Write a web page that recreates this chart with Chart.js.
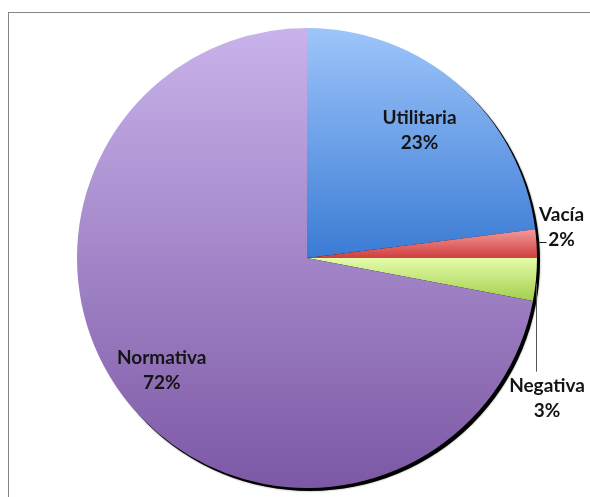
<!DOCTYPE html>
<html>
<head>
<meta charset="utf-8">
<script src="https://cdn.jsdelivr.net/npm/chart.js@4/dist/chart.umd.min.js"></script>
<style>
  html, body { margin: 0; padding: 0; background: #fff; }
  canvas { display: block; }
</style>
</head>
<body>
<canvas id="pie" width="590" height="497"></canvas>
<script>
const categories = ['Utilitaria', 'Vacía', 'Negativa', 'Normativa']
const shares = [23, 2, 3, 72]
const percentLabels = ['23%', '2%', '3%', '72%']

// light (top) -> dark (bottom) for each slice
const sliceColors = [
  ['#9ec5fb', '#3a7bd4'],
  ['#f49c9c', '#d03e3e'],
  ['#e4fbaa', '#a4ce4c'],
  ['#c9b3eb', '#7c58a5'],
]

const FONT = 'bold 19px Lato, "Open Sans", sans-serif'

function pieGeometry(chart) {
  const a = chart.chartArea
  const cx = (a.left + a.right) / 2
  const cy = (a.top + a.bottom) / 2
  const r = Math.min(a.right - a.left, a.bottom - a.top) / 2
  return { cx, cy, r }
}

// vertical gradient spanning each slice's own height
function sliceFill(context) {
  const chart = context.chart
  const i = context.dataIndex
  if (!chart.chartArea) return sliceColors[i][0]
  const { cy, r } = pieGeometry(chart)
  const total = shares.reduce((s, v) => s + v, 0)
  let before = 0
  for (let k = 0; k < i; k++) before += shares[k]
  const a0 = -Math.PI / 2 + (before / total) * 2 * Math.PI
  const a1 = a0 + (shares[i] / total) * 2 * Math.PI
  const ys = [0, Math.sin(a0), Math.sin(a1)]
  for (const t of [-Math.PI / 2, Math.PI / 2, 1.5 * Math.PI]) {
    if (t > a0 && t < a1) ys.push(Math.sin(t))
  }
  const top = cy + r * Math.min(...ys)
  const bottom = cy + r * Math.max(...ys)
  const g = chart.ctx.createLinearGradient(0, top, 0, bottom)
  g.addColorStop(0, sliceColors[i][0])
  g.addColorStop(1, sliceColors[i][1])
  return g
}

const framePlugin = {
  id: 'frame',
  beforeDraw(chart) {
    const ctx = chart.ctx
    ctx.save()
    ctx.fillStyle = '#fff'
    ctx.fillRect(0, 0, chart.width, chart.height)
    ctx.strokeStyle = '#868686'
    ctx.lineWidth = 1
    ctx.strokeRect(8.5, 12.5, chart.width + 10, chart.height + 10)
    ctx.restore()
  },
  beforeDatasetsDraw(chart) {
    const { cx, cy, r } = pieGeometry(chart)
    const ctx = chart.ctx
    ctx.save()
    ctx.beginPath()
    ctx.arc(cx + 3, cy + 3, r, 0, Math.PI * 2)
    ctx.shadowColor = 'rgba(0,0,0,0.5)'
    ctx.shadowBlur = 2
    ctx.fillStyle = '#000'
    ctx.fill()
    ctx.restore()
  }
}

const labelPlugin = {
  id: 'sliceLabels',
  afterDatasetsDraw(chart) {
    const ctx = chart.ctx
    const meta = chart.getDatasetMeta(0)
    ctx.save()
    ctx.font = FONT
    ctx.fillStyle = '#141414'
    ctx.textAlign = 'center'
    ctx.textBaseline = 'middle'
    meta.data.forEach((arc, i) => {
      const p = arc.getProps(['x', 'y', 'startAngle', 'endAngle', 'outerRadius'], true)
      const mid = (p.startAngle + p.endAngle) / 2
      const ex = p.x + Math.cos(mid) * p.outerRadius
      const ey = p.y + Math.sin(mid) * p.outerRadius
      let tx, ty
      if (i === 1) {
        // short horizontal leader to the right
        ctx.strokeStyle = '#222'
        ctx.lineWidth = 1
        ctx.beginPath()
        ctx.moveTo(ex + 1, Math.round(ey) - 1.5)
        ctx.lineTo(ex + 10, Math.round(ey) - 1.5)
        ctx.stroke()
        tx = ex + 25
        ty = ey - 29
      } else if (i === 2) {
        // vertical leader going down
        ctx.strokeStyle = '#555'
        ctx.lineWidth = 1
        ctx.beginPath()
        ctx.moveTo(Math.round(ex) + 0.5, ey + 4)
        ctx.lineTo(Math.round(ex) + 0.5, ey + 92)
        ctx.stroke()
        tx = ex + 11
        ty = ey + 106
      } else {
        const f = i === 0 ? 0.74 : 0.82
        tx = p.x + Math.cos(mid) * p.outerRadius * f
        ty = p.y + Math.sin(mid) * p.outerRadius * f - 12.5 - (i === 3 ? 8 : 0)
      }
      ctx.fillText(categories[i], tx, ty)
      ctx.fillText(percentLabels[i], tx, ty + 25)
    })
    ctx.restore()
  }
}

new Chart(document.getElementById('pie'), {
  type: 'pie',
  data: {
    labels: categories,
    datasets: [{
      data: shares,
      backgroundColor: sliceFill,
      borderWidth: 0,
    }]
  },
  options: {
    responsive: false,
    animation: false,
    layout: { padding: { top: 28, bottom: 9, left: 77, right: 53 } },
    plugins: {
      legend: { display: false },
      tooltip: { enabled: false },
    }
  },
  plugins: [framePlugin, labelPlugin]
})
</script>
</body>
</html>
